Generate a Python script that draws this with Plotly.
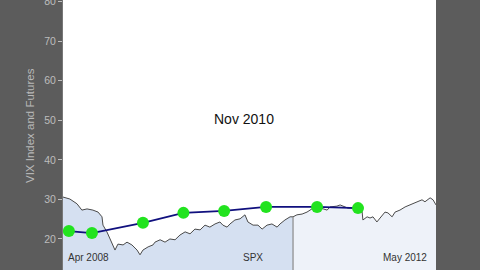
import plotly.graph_objects as go

# ---- data ----
spx_dates = [
    "2008-04-01", "2008-04-29", "2008-05-28", "2008-06-17", "2008-07-08", "2008-08-01", "2008-08-22",
    "2008-09-07", "2008-09-11", "2008-09-27", "2008-10-10", "2008-10-22", "2008-10-30", "2008-11-11",
    "2008-12-02", "2008-12-18", "2009-01-07", "2009-01-28", "2009-02-09", "2009-02-21", "2009-03-14",
    "2009-04-03", "2009-04-11", "2009-05-02", "2009-05-22", "2009-06-11", "2009-07-02", "2009-07-22",
    "2009-08-12", "2009-09-01", "2009-09-21", "2009-10-12", "2009-11-01", "2009-11-21", "2009-12-12",
    "2010-01-01", "2010-01-13", "2010-01-30", "2010-02-11", "2010-03-03", "2010-03-24", "2010-04-13",
    "2010-04-25", "2010-05-16", "2010-06-05", "2010-06-22", "2010-07-12", "2010-08-01", "2010-08-22",
    "2010-09-03", "2010-09-23", "2010-10-14", "2010-10-26", "2010-11-11", "2010-12-02", "2010-12-22",
    "2011-01-11", "2011-02-01", "2011-02-25", "2011-03-14", "2011-03-26", "2011-04-23", "2011-05-06",
    "2011-05-26", "2011-06-07", "2011-06-28", "2011-07-18", "2011-08-03", "2011-08-07", "2011-08-24",
    "2011-09-05", "2011-09-17", "2011-10-03", "2011-10-16", "2011-11-05", "2011-11-17", "2011-12-04",
    "2011-12-16", "2012-01-05", "2012-01-26", "2012-02-15", "2012-03-15", "2012-04-04", "2012-04-16",
    "2012-05-07", "2012-05-19", "2012-05-31",
]
spx_scaled = [
    30.6, 30.1, 28.9, 27.3, 27.6, 27.3, 26.8,
    25.6, 23.5, 21.8, 20.0, 18.5, 17.2, 18.7,
    18.5, 19.2, 18.5, 17.2, 16.0, 17.2, 18.0,
    18.5, 19.2, 19.8, 19.2, 20.0, 19.8, 21.0,
    21.8, 21.3, 22.5, 22.3, 23.5, 23.0, 23.8,
    24.3, 23.5, 23.0, 23.8, 24.8, 25.1, 26.1,
    24.3, 23.5, 23.5, 22.5, 23.5, 23.8, 23.0,
    23.8, 24.8, 25.6, 25.6, 26.1, 26.3, 26.8,
    27.6, 28.1, 27.6, 27.3, 28.1, 28.3, 28.6,
    28.1, 27.8, 27.8, 28.1, 27.3, 24.8, 25.6,
    25.3, 25.6, 24.3, 25.3, 26.8, 26.6, 25.6,
    26.8, 27.3, 28.1, 28.6, 29.4, 29.9, 29.4,
    30.4, 29.9, 28.6,
]
futures_dates = ["2008-04-25", "2008-07-28", "2009-02-21", "2009-08-05",
                 "2010-01-18", "2010-07-08", "2011-02-01", "2011-07-18"]
futures_values = [22.0, 21.5, 24.1, 26.6, 27.1, 28.1, 28.1, 27.8]

selection_end = "2010-10-26"
current_label = "Nov 2010"
nav_start_label = "Apr 2008"
nav_end_label = "May 2012"
nav_name = "SPX"
y_title = "VIX Index and Futures"
y_ticks = [20, 30, 40, 50, 60, 70, 80]

# ---- figure ----
split = spx_dates.index(selection_end)

fig = go.Figure()
fig.add_trace(go.Scatter(x=spx_dates[:split + 1], y=spx_scaled[:split + 1], mode="lines",
                         line=dict(width=0), fill="tozeroy", fillcolor="#d5e0f1",
                         hoverinfo="skip", showlegend=False))
fig.add_trace(go.Scatter(x=spx_dates[split:], y=spx_scaled[split:], mode="lines",
                         line=dict(width=0), fill="tozeroy", fillcolor="#eef2f9",
                         hoverinfo="skip", showlegend=False))
fig.add_trace(go.Scatter(x=spx_dates, y=spx_scaled, mode="lines",
                         line=dict(color="#4a4a4a", width=1), showlegend=False))
fig.add_trace(go.Scatter(x=futures_dates, y=futures_values, mode="lines+markers",
                         line=dict(color="#10107e", width=1.8),
                         marker=dict(color="#22e31f", size=12, line=dict(width=0)),
                         showlegend=False))

fig.add_shape(type="line", xref="x", yref="y", x0=selection_end, x1=selection_end,
              y0=0, y1=spx_scaled[split], line=dict(color="#8a8a8a", width=1.2))

fig.add_annotation(x=(244 - 63) / 373, y=(270 - 119) / 270, xref="paper", yref="paper",
                   text=current_label, showarrow=False,
                   font=dict(size=14, color="#111111", family="Liberation Sans"))
fig.add_annotation(x=0.008, y=0.018, xref="paper", yref="paper", text=nav_start_label,
                   showarrow=False, xanchor="left", yanchor="bottom",
                   font=dict(size=10, color="#333333", family="Liberation Sans"))
fig.add_annotation(x=0.51, y=0.018, xref="paper", yref="paper", text=nav_name,
                   showarrow=False, xanchor="center", yanchor="bottom",
                   font=dict(size=10, color="#333333", family="Liberation Sans"))
fig.add_annotation(x=0.98, y=0.018, xref="paper", yref="paper", text=nav_end_label,
                   showarrow=False, xanchor="right", yanchor="bottom",
                   font=dict(size=10, color="#333333", family="Liberation Sans"))
fig.add_annotation(x=-33 / 373, y=(270 - 126) / 270, xref="paper", yref="paper", text=y_title,
                   showarrow=False, textangle=-90, xanchor="center", yanchor="middle",
                   font=dict(size=11.5, color="#b8b8b8", family="Liberation Sans"))

fig.update_layout(
    width=480, height=270,
    margin=dict(l=63, r=44, t=0, b=0, autoexpand=False),
    paper_bgcolor="#5c5c5c", plot_bgcolor="#ffffff",
    xaxis=dict(range=["2008-04-01", "2012-05-31"], showticklabels=False, ticks="",
               showgrid=False, zeroline=False, showline=False, automargin=False),
    yaxis=dict(range=[12.16, 80.4], tickvals=y_ticks, ticks="outside", ticklen=4,
               tickcolor="#bdbdbd", showgrid=False, zeroline=False,
               showline=True, linecolor="#777777", linewidth=1,
               automargin=False, ticklabeloverflow="allow",
               tickfont=dict(size=10.5, color="#bcbcbc", family="Liberation Sans")),
)

fig.write_html("out.html")
